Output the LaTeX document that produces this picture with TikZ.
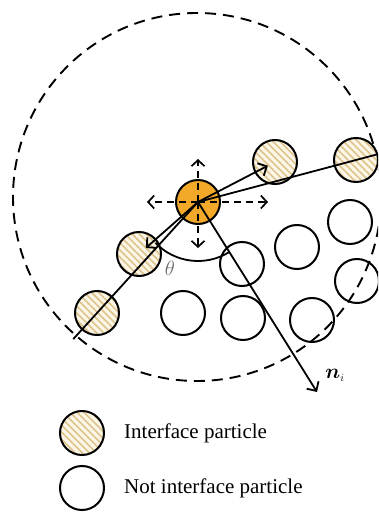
\documentclass[tikz,border=0pt]{standalone}
\usepackage{amsmath}
\usepackage{fontspec}
\setmainfont{Liberation Serif}
\usepackage{tikz}
\usetikzlibrary{
  arrows.meta,
  calc,
  patterns.meta,
  positioning
}
\definecolor{ptOrange}{RGB}{242,169,42}
\definecolor{ptCream}{RGB}{252,246,232}
\definecolor{ptStripe}{RGB}{222,196,140}
\definecolor{ptGray}{RGB}{110,110,115}
\tikzset{
  ptBase/.style={
    circle,
    draw=black,
    line width=2pt,
    minimum size=44pt,
    inner sep=0pt
  },
  ptIface/.style={
    ptBase,
    preaction={fill=ptCream},
    pattern={Lines[angle=-45,distance=5pt,line width=1.6pt]},
    pattern color=ptStripe
  },
  ptPlain/.style={
    ptBase
  },
  ptCenter/.style={
    ptBase,
    fill=ptOrange
  },
  searchArrow/.style={
    -{Straight Barb[length=6pt,width=13pt,line width=1.7pt]},
    line width=1.7pt,
    dash pattern=on 7pt off 5pt
  },
  vecArrow/.style={
    -{Straight Barb[length=7pt,width=14pt,line width=1.8pt]},
    line width=1.8pt
  },
  rayLine/.style={
    line width=1.8pt
  },
  legendText/.style={
    anchor=west,
    font=\fontsize{21}{25}\selectfont,
    inner sep=0pt
  }
}

\begin{document}
\begin{tikzpicture}[x=1pt,y=1pt]
  \useasboundingbox (0,0) rectangle (378,512);
  \clip (0,0) rectangle (378,512);

  % support domain
  \draw[line width=1.9pt, dash pattern=on 11pt off 7pt]
    (197,315) circle[radius=184];

  % particles
  \node[ptPlain] (pA) at (242,248) {};
  \node[ptPlain] (pB) at (297,265) {};
  \node[ptPlain] (pC) at (350,290) {};
  \node[ptPlain] (pD) at (183,199) {};
  \node[ptPlain] (pE) at (243,194) {};
  \node[ptPlain] (pF) at (312,192) {};
  \node[ptPlain] (pG) at (357,231) {};

  \node[ptIface] (ifU) at (275,350) {};
  \node[ptIface] (ifR) at (356,352) {};
  \node[ptIface] (ifL) at (139,258) {};
  \node[ptIface] (ifLL) at (97,199) {};

  \node[ptCenter] (ctr) at (198,310) {};

  % search directions
  \coordinate (dirUp) at (198,353);
  \coordinate (dirDown) at (198,264);
  \coordinate (dirLeft) at (147,310);
  \coordinate (dirRight) at (268,310);
  \foreach \d in {dirUp,dirDown,dirLeft,dirRight}
    \draw[searchArrow] (ctr.center) -- (\d);

  % rays to the rim
  \coordinate (rimR) at ($(ctr.center)!1.13!(ifR.center)$);
  \coordinate (rimLL) at ($(ctr.center)!1.235!(ifLL.center)$);
  \draw[rayLine] (ctr.center) -- (rimR);
  \draw[rayLine] (ctr.center) -- (rimLL);
  \draw[vecArrow, shorten >=8pt] (ctr.center) -- (ifU.center);
  \draw[vecArrow, shorten >=9pt] (ctr.center) -- (ifL.center);

  % normal vector
  \coordinate (nTip) at (317,120);
  \draw[vecArrow] (ctr.center) -- (nTip);
  \node[font=\fontsize{22}{26}\selectfont] (nLab) at (335,137)
    {$\boldsymbol{n}_{\scriptscriptstyle i}$};

  % angle
  \draw[line width=1.8pt] (ctr.center) ++(224:59) arc[start angle=224, end angle=302, radius=59];
  \node[text=ptGray, font=\fontsize{21}{25}\selectfont] (thLab) at (170,244) {$\theta$};

  % legend
  \node[ptIface] (legI) at (82,79) {};
  \node[ptPlain] (legN) at (82,24) {};
  \node[legendText, right=19pt of legI] (legITxt) {Interface particle};
  \node[legendText, right=19pt of legN] (legNTxt) {Not interface particle};
\end{tikzpicture}
\end{document}
